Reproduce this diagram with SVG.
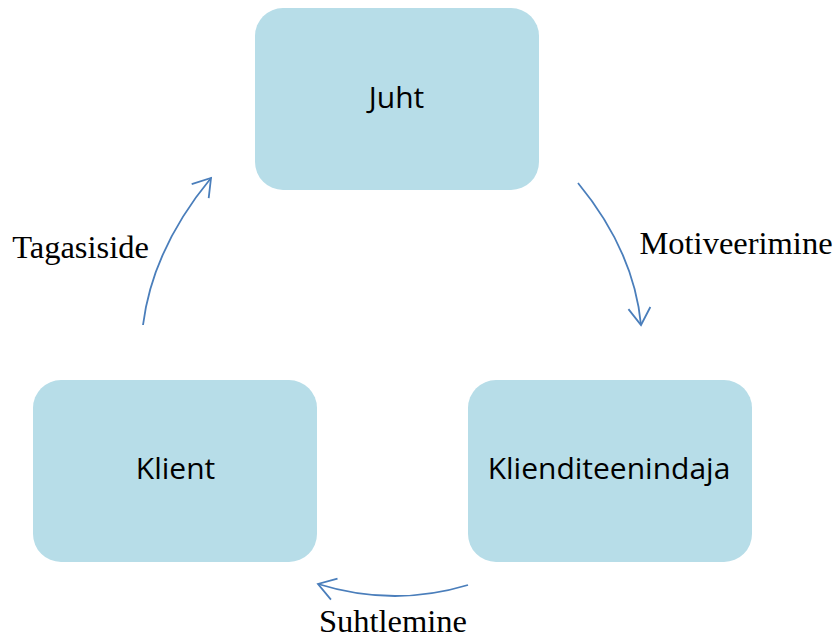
<svg xmlns="http://www.w3.org/2000/svg" width="833" height="639" viewBox="0 0 833 639">
<style>
.box{fill:#b7dde8;}
.bt{font-family:"Open Sans","Liberation Sans",sans-serif;font-size:30px;fill:#000;text-anchor:middle;}
.lbl{font-family:"Liberation Serif","Times New Roman",serif;font-size:32.5px;fill:#000;text-anchor:middle;}
.arr{fill:none;stroke:#4a7ebb;stroke-width:1.8;marker-end:url(#ah);}
</style>
<defs>
<marker id="ah" markerUnits="userSpaceOnUse" markerWidth="40" markerHeight="40" viewBox="-20 -20 40 40" refX="0" refY="0" orient="auto">
<path d="M-17,-11 L0,0 L-17,11" fill="none" stroke="#4a7ebb" stroke-width="1.8"/>
</marker>
</defs>
<rect width="833" height="639" fill="#fff"/>
<g id="juht">
<rect class="box" x="255" y="8" width="284" height="182" rx="28"/>
<text class="bt" x="396.5" y="108">Juht</text>
</g>
<g id="klient">
<rect class="box" x="33" y="380" width="284" height="182" rx="28"/>
<text class="bt" x="175.5" y="479">Klient</text>
</g>
<g id="klienditeenindaja">
<rect class="box" x="468" y="380" width="284" height="182" rx="28"/>
<text class="bt" x="609" y="479">Klienditeenindaja</text>
</g>
<g id="connectors">
<path class="arr" d="M578,183 Q634,251 641,325"/>
<path class="arr" d="M468,585 Q393.5,607.5 318,584"/>
<path class="arr" d="M143,325 Q152.5,249 211,178"/>
<text class="lbl" x="736" y="254">Motiveerimine</text>
<text class="lbl" x="393" y="632">Suhtlemine</text>
<text class="lbl" x="80.5" y="258">Tagasiside</text>
</g>
</svg>
